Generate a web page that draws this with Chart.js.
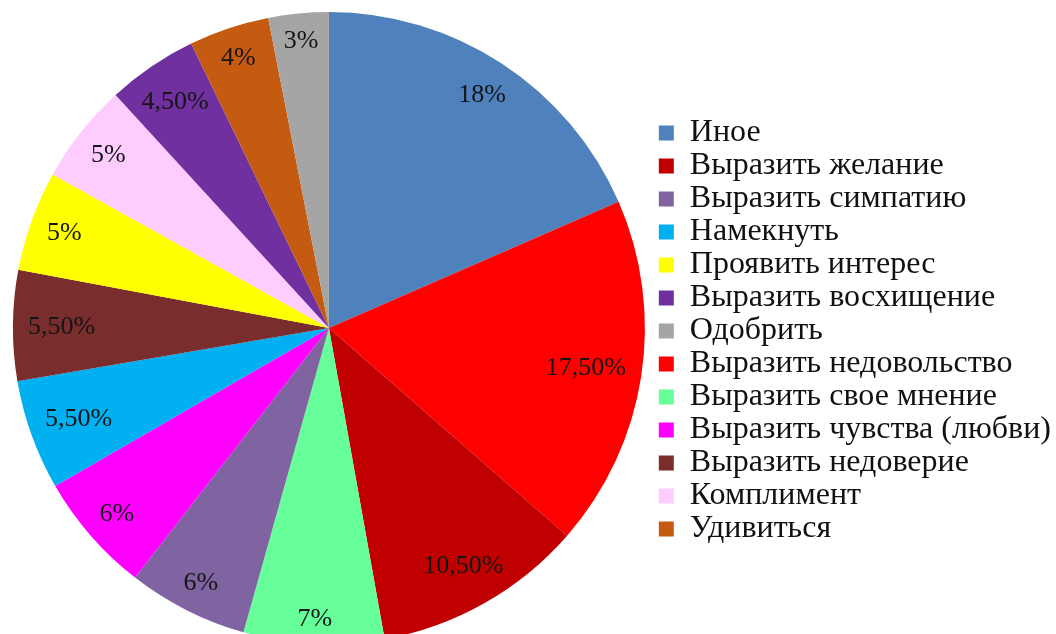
<!DOCTYPE html>
<html lang="ru">
<head>
  <meta charset="UTF-8">
  <title>Pie</title>
  <script src="https://cdn.jsdelivr.net/npm/chart.js"></script>
  <style>
    html, body { margin: 0; padding: 0; background: #fff; overflow: hidden; }
    #wrap { position: relative; width: 1061px; height: 660px; }
  </style>
</head>
<body>
<div id="wrap"><canvas id="pieChart"></canvas></div>
<script>
// slices, clockwise from 12 o'clock
const categories = [
  'Иное', 'Выразить недовольство', 'Выразить желание', 'Выразить свое мнение',
  'Выразить симпатию', 'Выразить чувства (любви)', 'Намекнуть', 'Выразить недоверие',
  'Проявить интерес', 'Комплимент', 'Выразить восхищение', 'Удивиться', 'Одобрить'
];
const shares = [18, 17.5, 10.5, 7, 6, 6, 5.5, 5.5, 5, 5, 4.5, 4, 3];
const colors = [
  '#4F81BD', '#FF0000', '#C00000', '#66FF99',
  '#8064A2', '#FF00FF', '#00B0F0', '#792D2D',
  '#FFFF00', '#FFCCFF', '#7030A0', '#C55A11', '#A5A5A5'
];
// order of the legend entries
const legendOrder = [
  'Иное', 'Выразить желание', 'Выразить симпатию', 'Намекнуть', 'Проявить интерес',
  'Выразить восхищение', 'Одобрить', 'Выразить недовольство', 'Выразить свое мнение',
  'Выразить чувства (любви)', 'Выразить недоверие', 'Комплимент', 'Удивиться'
];

const serif = '"Liberation Serif", "Times New Roman", serif';
const fmt = v => Number.isInteger(v) ? v + '%' : v.toFixed(2).replace('.', ',') + '%';

// percent labels near the outer edge of each slice
const sliceLabels = {
  id: 'sliceLabels',
  afterDatasetsDraw(chart) {
    const ctx = chart.ctx;
    const meta = chart.getDatasetMeta(0);
    ctx.save();
    ctx.font = '26px ' + serif;
    ctx.fillStyle = '#151515';
    ctx.textAlign = 'center';
    ctx.textBaseline = 'middle';
    meta.data.forEach((arc, i) => {
      const p = arc.getProps(['x', 'y', 'startAngle', 'endAngle', 'outerRadius'], true);
      const mid = (p.startAngle + p.endAngle) / 2;
      const txt = fmt(shares[i]);
      const w = ctx.measureText(txt).width;
      const h = 20;
      const ext = Math.abs(Math.cos(mid)) * w / 2 + Math.abs(Math.sin(mid)) * h / 2;
      const r = p.outerRadius - 15 - ext;
      ctx.fillText(txt, p.x + Math.cos(mid) * r, p.y + Math.sin(mid) * r + 1);
    });
    ctx.restore();
  }
};

new Chart(document.getElementById('pieChart'), {
  type: 'pie',
  data: {
    labels: categories,
    datasets: [{
      data: shares,
      backgroundColor: colors,
      borderWidth: 0
    }]
  },
  options: {
    responsive: true,
    maintainAspectRatio: false,
    animation: false,
    layout: { padding: { top: 12, bottom: 16, left: 0, right: 0 } },
    plugins: {
      tooltip: { enabled: false },
      legend: {
        position: 'right',
        // empty title just nudges the list a few px down
        title: { display: true, text: '', font: { size: 5, lineHeight: 1.2 }, padding: 0 },
        labels: {
          color: '#111',
          font: { family: serif, size: 32 },
          boxWidth: 15,
          boxHeight: 15,
          padding: 1,
          sort: (a, b) => legendOrder.indexOf(a.text) - legendOrder.indexOf(b.text)
        }
      }
    }
  },
  plugins: [sliceLabels]
});
</script>
</body>
</html>
